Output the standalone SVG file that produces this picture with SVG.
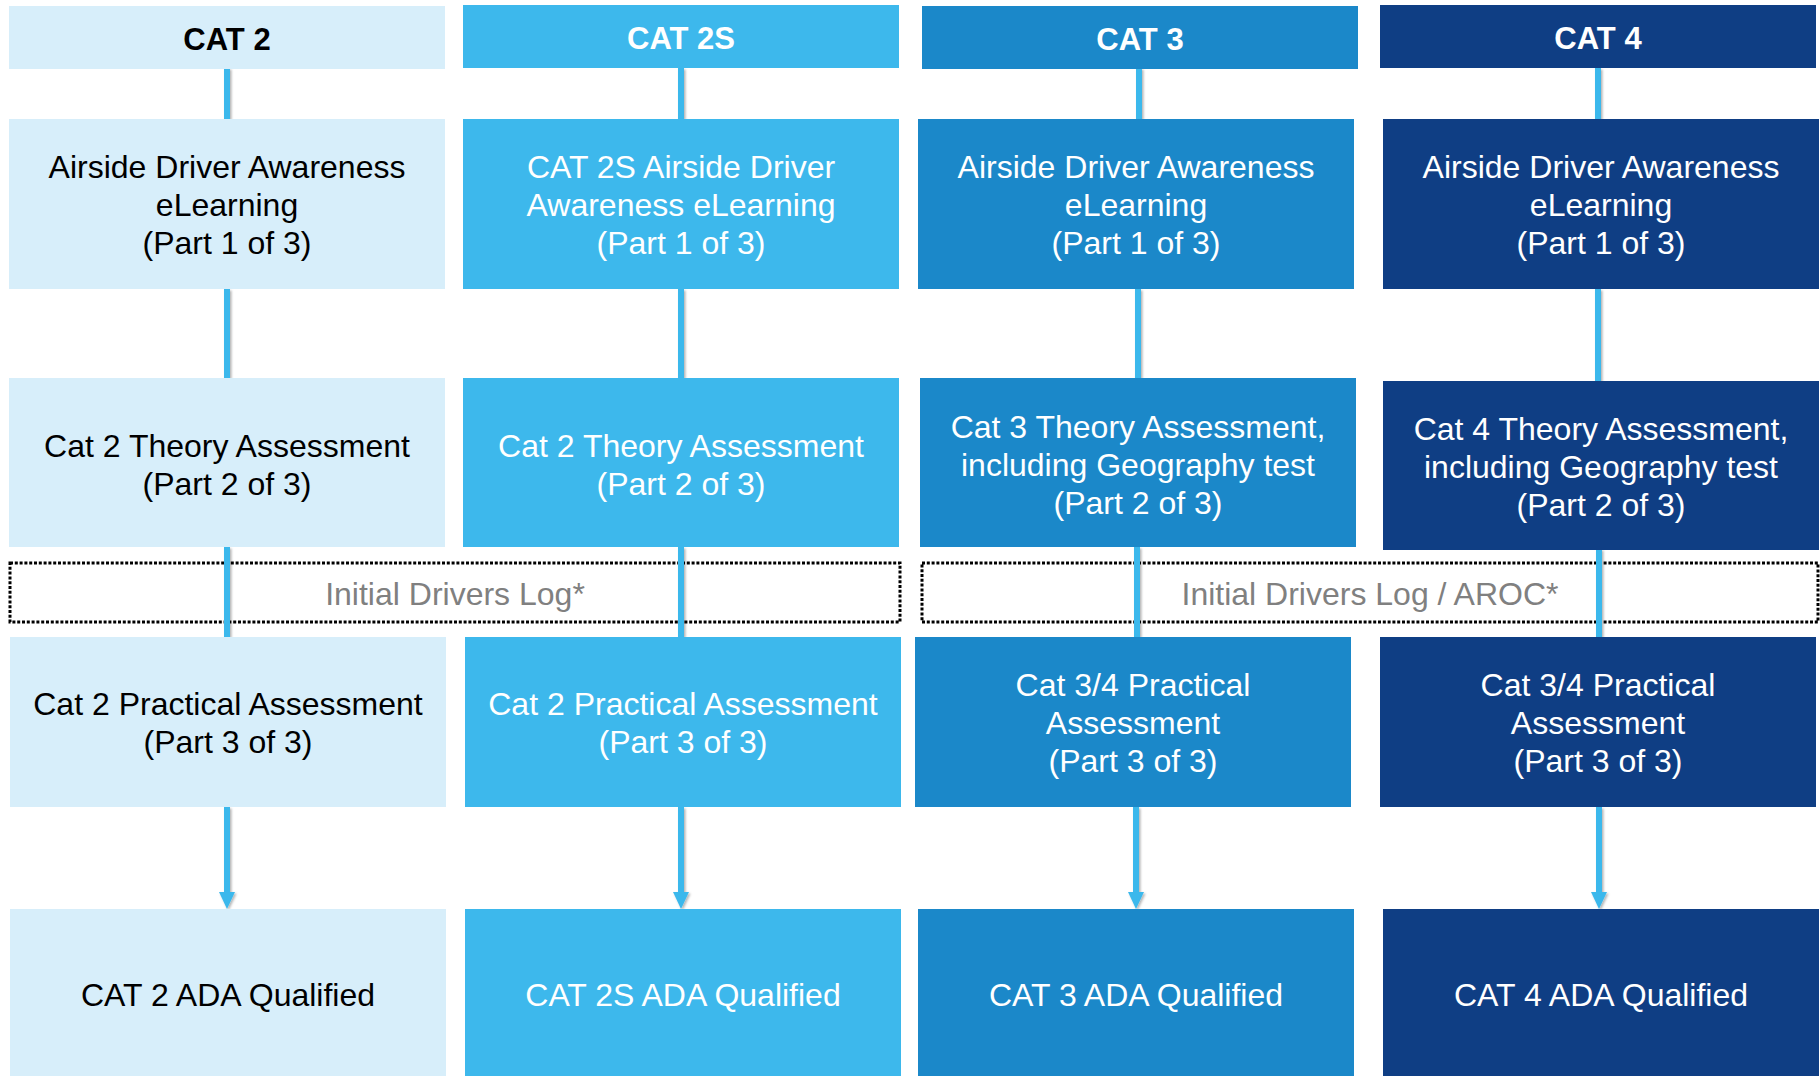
<svg xmlns="http://www.w3.org/2000/svg" width="1820" height="1076" viewBox="0 0 1820 1076">
<defs>
<style>
.t{font-family:"Liberation Sans",Arial,sans-serif;font-size:32px;text-anchor:middle}
.h{font-family:"Liberation Sans",Arial,sans-serif;font-size:31px;font-weight:bold;text-anchor:middle}
.dk{fill:#000}
.wt{fill:#fff}
.c1{fill:#D7EEFA}
.c2{fill:#3DB8EC}
.c3{fill:#1B88C9}
.c4{fill:#0F3E84}
.dot{fill:none;stroke:#000;stroke-width:3;stroke-dasharray:3 1.8}
.gl{font-family:"Liberation Sans",Arial,sans-serif;font-size:32px;text-anchor:middle;fill:#808080}
.ln{stroke:#3BB8EC;stroke-width:6;fill:none}
.ah{fill:#3BB8EC}
</style>
<filter id="sh" x="-50%" y="-10%" width="200%" height="120%">
<feDropShadow dx="1.5" dy="1.5" stdDeviation="1.2" flood-color="#000" flood-opacity="0.3"/>
</filter>
</defs>
<rect width="1820" height="1076" fill="#fff"/>

<g id="log-groups">
<g id="log1">
<rect class="dot" x="10" y="563" width="890" height="59"/>
<text class="gl" x="455" y="605">Initial Drivers Log*</text>
</g>
<g id="log2">
<rect class="dot" x="922" y="563" width="896" height="59"/>
<text class="gl" x="1370" y="605">Initial Drivers Log / AROC*</text>
</g>
</g>

<g id="connectors" filter="url(#sh)">
<line class="ln" x1="227" y1="68" x2="227" y2="119"/>
<line class="ln" x1="227" y1="289" x2="227" y2="378"/>
<line class="ln" x1="227" y1="547" x2="227" y2="637"/>
<line class="ln" x1="227" y1="807" x2="227" y2="894"/>
<polygon class="ah" points="219,892 235,892 227,909"/>

<line class="ln" x1="681" y1="68" x2="681" y2="119"/>
<line class="ln" x1="681" y1="289" x2="681" y2="378"/>
<line class="ln" x1="681" y1="547" x2="681" y2="637"/>
<line class="ln" x1="681" y1="807" x2="681" y2="894"/>
<polygon class="ah" points="673,892 689,892 681,909"/>

<line class="ln" x1="1139" y1="68" x2="1139" y2="119"/>
<line class="ln" x1="1138" y1="289" x2="1138" y2="378"/>
<line class="ln" x1="1137" y1="547" x2="1137" y2="637"/>
<line class="ln" x1="1136" y1="807" x2="1136" y2="894"/>
<polygon class="ah" points="1128,892 1144,892 1136,909"/>

<line class="ln" x1="1598" y1="68" x2="1598" y2="119"/>
<line class="ln" x1="1598" y1="289" x2="1598" y2="381"/>
<line class="ln" x1="1599" y1="549" x2="1599" y2="637"/>
<line class="ln" x1="1599" y1="807" x2="1599" y2="894"/>
<polygon class="ah" points="1591,892 1607,892 1599,909"/>
</g>

<g id="col1">
<g id="cat2-header"><rect class="c1" x="9" y="6" width="436" height="63"/><text class="h dk" x="227" y="50">CAT 2</text></g>
<g id="cat2-part1"><rect class="c1" x="9" y="119" width="436" height="170"/><text class="t dk"><tspan x="227" y="178">Airside Driver Awareness</tspan><tspan x="227" y="216">eLearning</tspan><tspan x="227" y="254">(Part 1 of 3)</tspan></text></g>
<g id="cat2-part2"><rect class="c1" x="9" y="378" width="436" height="169"/><text class="t dk"><tspan x="227" y="457">Cat 2 Theory Assessment</tspan><tspan x="227" y="495">(Part 2 of 3)</tspan></text></g>
<g id="cat2-part3"><rect class="c1" x="10" y="637" width="436" height="170"/><text class="t dk"><tspan x="228" y="715">Cat 2 Practical Assessment</tspan><tspan x="228" y="753">(Part 3 of 3)</tspan></text></g>
<g id="cat2-qual"><rect class="c1" x="10" y="909" width="436" height="167"/><text class="t dk" x="228" y="1006">CAT 2 ADA Qualified</text></g>
</g>

<g id="col2">
<g id="cat2s-header"><rect class="c2" x="463" y="5" width="436" height="63"/><text class="h wt" x="681" y="49">CAT 2S</text></g>
<g id="cat2s-part1"><rect class="c2" x="463" y="119" width="436" height="170"/><text class="t wt"><tspan x="681" y="178">CAT 2S Airside Driver</tspan><tspan x="681" y="216">Awareness eLearning</tspan><tspan x="681" y="254">(Part 1 of 3)</tspan></text></g>
<g id="cat2s-part2"><rect class="c2" x="463" y="378" width="436" height="169"/><text class="t wt"><tspan x="681" y="457">Cat 2 Theory Assessment</tspan><tspan x="681" y="495">(Part 2 of 3)</tspan></text></g>
<g id="cat2s-part3"><rect class="c2" x="465" y="637" width="436" height="170"/><text class="t wt"><tspan x="683" y="715">Cat 2 Practical Assessment</tspan><tspan x="683" y="753">(Part 3 of 3)</tspan></text></g>
<g id="cat2s-qual"><rect class="c2" x="465" y="909" width="436" height="167"/><text class="t wt" x="683" y="1006">CAT 2S ADA Qualified</text></g>
</g>

<g id="col3">
<g id="cat3-header"><rect class="c3" x="922" y="6" width="436" height="63"/><text class="h wt" x="1140" y="50">CAT 3</text></g>
<g id="cat3-part1"><rect class="c3" x="918" y="119" width="436" height="170"/><text class="t wt"><tspan x="1136" y="178">Airside Driver Awareness</tspan><tspan x="1136" y="216">eLearning</tspan><tspan x="1136" y="254">(Part 1 of 3)</tspan></text></g>
<g id="cat3-part2"><rect class="c3" x="920" y="378" width="436" height="169"/><text class="t wt"><tspan x="1138" y="438">Cat 3 Theory Assessment,</tspan><tspan x="1138" y="476">including Geography test</tspan><tspan x="1138" y="514">(Part 2 of 3)</tspan></text></g>
<g id="cat3-part3"><rect class="c3" x="915" y="637" width="436" height="170"/><text class="t wt"><tspan x="1133" y="696">Cat 3/4 Practical</tspan><tspan x="1133" y="734">Assessment</tspan><tspan x="1133" y="772">(Part 3 of 3)</tspan></text></g>
<g id="cat3-qual"><rect class="c3" x="918" y="909" width="436" height="167"/><text class="t wt" x="1136" y="1006">CAT 3 ADA Qualified</text></g>
</g>

<g id="col4">
<g id="cat4-header"><rect class="c4" x="1380" y="5" width="436" height="63"/><text class="h wt" x="1598" y="49">CAT 4</text></g>
<g id="cat4-part1"><rect class="c4" x="1383" y="119" width="436" height="170"/><text class="t wt"><tspan x="1601" y="178">Airside Driver Awareness</tspan><tspan x="1601" y="216">eLearning</tspan><tspan x="1601" y="254">(Part 1 of 3)</tspan></text></g>
<g id="cat4-part2"><rect class="c4" x="1383" y="381" width="436" height="169"/><text class="t wt"><tspan x="1601" y="440">Cat 4 Theory Assessment,</tspan><tspan x="1601" y="478">including Geography test</tspan><tspan x="1601" y="516">(Part 2 of 3)</tspan></text></g>
<g id="cat4-part3"><rect class="c4" x="1380" y="637" width="436" height="170"/><text class="t wt"><tspan x="1598" y="696">Cat 3/4 Practical</tspan><tspan x="1598" y="734">Assessment</tspan><tspan x="1598" y="772">(Part 3 of 3)</tspan></text></g>
<g id="cat4-qual"><rect class="c4" x="1383" y="909" width="436" height="167"/><text class="t wt" x="1601" y="1006">CAT 4 ADA Qualified</text></g>
</g>
</svg>
